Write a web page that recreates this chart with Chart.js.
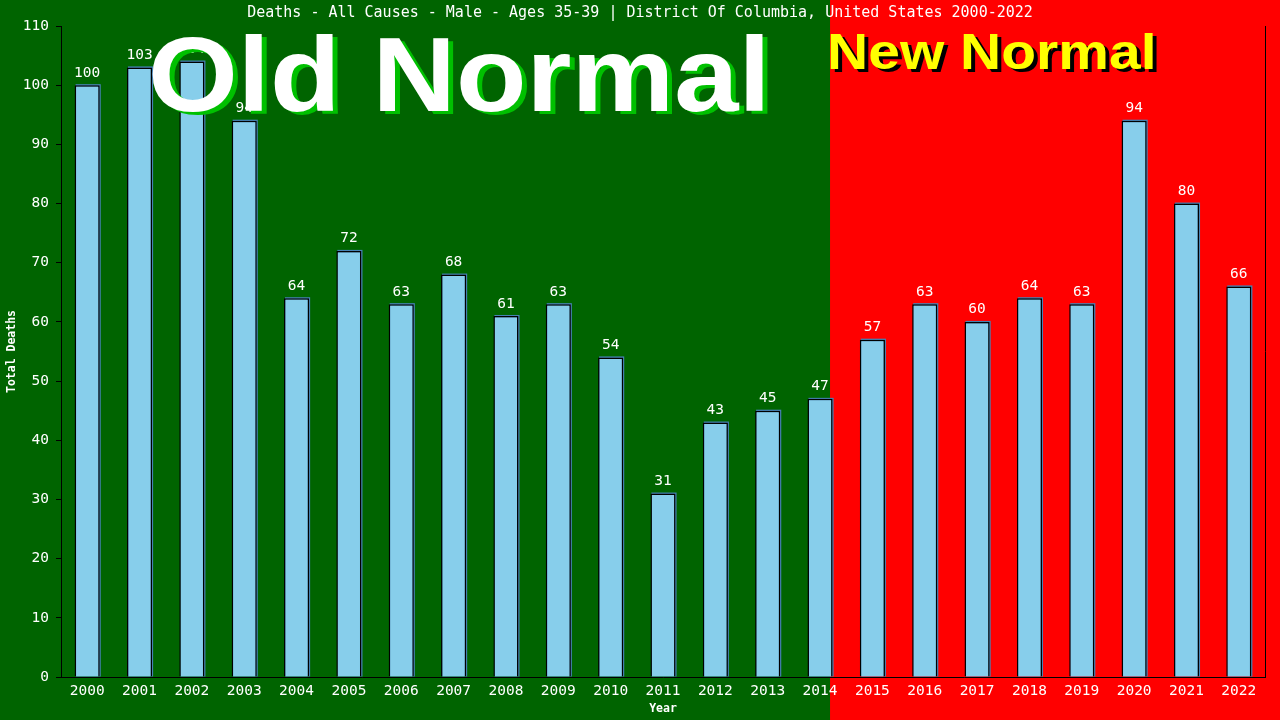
<!DOCTYPE html>
<html>
<head>
<meta charset="utf-8">
<script src="https://cdn.jsdelivr.net/npm/chart.js@4"></script>
<style>
html,body{margin:0;padding:0;background:#006400;}
canvas{display:block;}
</style>
</head>
<body>
<canvas id="c" width="1280" height="720"></canvas>
<script>
const years = ['2000','2001','2002','2003','2004','2005','2006','2007','2008','2009','2010','2011','2012','2013','2014','2015','2016','2017','2018','2019','2020','2021','2022'];
const deaths = [100,103,104,94,64,72,63,68,61,63,54,31,43,45,47,57,63,60,64,63,94,80,66];
const yTicks = [0,10,20,30,40,50,60,70,80,90,100,110];
const titleText = 'Deaths - All Causes - Male - Ages 35-39 | District Of Columbia, United States 2000-2022';
const oldLabel = 'Old Normal';
const newLabel = 'New Normal';
const splitAfterIndex = 14; // last "Old Normal" year (2014)

const MONO = '"DejaVu Sans Mono", "Liberation Mono", monospace';
const SANS = '"Liberation Sans", Arial, sans-serif';

const bgPlugin = {
  id: 'bg',
  beforeDraw(chart) {
    const {ctx, width, height, scales} = chart;
    const split = scales.x.getPixelForValue(splitAfterIndex) + 10;
    ctx.save();
    ctx.fillStyle = '#006400';
    ctx.fillRect(0, 0, width, height);
    ctx.fillStyle = '#ff0000';
    ctx.fillRect(split, 0, width - split, height);
    ctx.fillStyle = '#ffffff';
    ctx.font = '15px ' + MONO;
    ctx.textAlign = 'center';
    ctx.textBaseline = 'middle';
    ctx.fillText(titleText, width / 2, 13);
    ctx.restore();
  }
};

const shadowPlugin = {
  id: 'barShadow',
  beforeDatasetsDraw(chart) {
    const {ctx} = chart;
    const meta = chart.getDatasetMeta(0);
    ctx.save();
    ctx.fillStyle = '#4682b4';
    meta.data.forEach(b => {
      const p = b.getProps(['x','y','base','width'], true);
      ctx.fillRect(p.x - p.width/2 + 1, p.y - 1, p.width, p.base - p.y + 1);
    });
    ctx.restore();
  }
};

function stretchedText(ctx, text, x, y, sx) {
  ctx.save();
  ctx.translate(x, y);
  ctx.scale(sx, 1);
  ctx.fillText(text, 0, 0);
  ctx.restore();
}

const overlayPlugin = {
  id: 'overlay',
  afterDatasetsDraw(chart) {
    const {ctx, chartArea, scales} = chart;
    const meta = chart.getDatasetMeta(0);
    ctx.save();
    ctx.fillStyle = '#ffffff';
    ctx.font = '14.5px ' + MONO;
    ctx.textAlign = 'center';
    ctx.textBaseline = 'bottom';
    meta.data.forEach((b, i) => {
      ctx.fillText(String(deaths[i]), b.x, b.y - 5);
    });
    ctx.strokeStyle = '#000';
    ctx.lineWidth = 1;
    ctx.beginPath();
    ctx.moveTo(Math.round(chartArea.right) + 0.5, chartArea.top);
    ctx.lineTo(Math.round(chartArea.right) + 0.5, chartArea.bottom);
    ctx.stroke();
    const split = scales.x.getPixelForValue(splitAfterIndex) + 10;
    ctx.textAlign = 'left';
    ctx.textBaseline = 'alphabetic';
    ctx.font = 'bold 105px ' + SANS;
    ctx.fillStyle = '#00c000';
    stretchedText(ctx, oldLabel, 148 + 5, 111 + 3, 1.1);
    ctx.fillStyle = '#ffffff';
    stretchedText(ctx, oldLabel, 148, 111, 1.1);
    ctx.font = 'bold 50px ' + SANS;
    ctx.fillStyle = '#000000';
    stretchedText(ctx, newLabel, split - 3 + 4, 69 + 3, 1.14);
    ctx.fillStyle = '#ffff00';
    stretchedText(ctx, newLabel, split - 3, 69, 1.14);
    ctx.restore();
  }
};

new Chart(document.getElementById('c'), {
  type: 'bar',
  data: {
    labels: years,
    datasets: [{
      data: deaths,
      backgroundColor: '#87ceeb',
      borderColor: '#000000',
      borderWidth: {top: 1.5, left: 1.5, right: 1.5, bottom: 0},
      borderSkipped: false,
      barPercentage: 0.48,
      categoryPercentage: 1.0
    }]
  },
  options: {
    responsive: false,
    devicePixelRatio: 1,
    animation: false,
    layout: {padding: {left: 0, right: 15, top: 26, bottom: 0}},
    plugins: {
      legend: {display: false},
      tooltip: {enabled: false},
      title: {display: false}
    },
    scales: {
      x: {
        grid: {display: false},
        border: {display: true, color: '#000000', width: 1},
        ticks: {color: '#ffffff', font: {family: MONO, size: 14.5}, padding: -2, maxRotation: 0, autoSkip: false},
        title: {display: true, text: 'Year', color: '#ffffff', font: {family: MONO, size: 11.5, weight: 'bold'}, padding: {top: 0, bottom: 4}},
        afterFit(s) { s.height = 43; }
      },
      y: {
        min: 0, max: 110,
        afterBuildTicks(s) { s.ticks = yTicks.map(v => ({value: v})); },
        grid: {drawOnChartArea: false, drawTicks: true, tickLength: 5, color: '#000000'},
        border: {display: true, color: '#000000', width: 1},
        ticks: {color: '#ffffff', font: {family: MONO, size: 14.5}, padding: 7},
        title: {display: true, text: 'Total Deaths', color: '#ffffff', font: {family: MONO, size: 11.5, weight: 'bold'}, padding: {top: 5, bottom: 0}},
        afterFit(s) { s.width = 61; }
      }
    }
  },
  plugins: [bgPlugin, shadowPlugin, overlayPlugin]
});
</script>
</body>
</html>
